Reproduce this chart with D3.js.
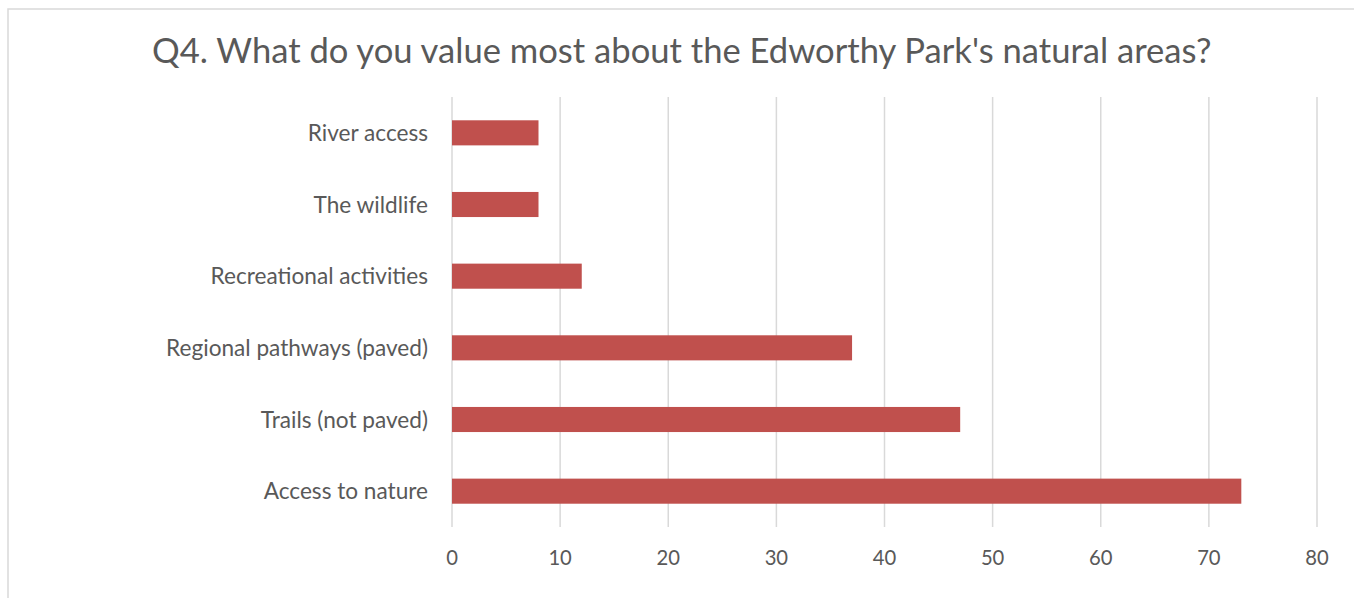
<!DOCTYPE html>
<html>
<head>
<meta charset="utf-8">
<script src="https://cdn.jsdelivr.net/npm/d3@7"></script>
<style>
  html, body { margin: 0; padding: 0; background: #fff; }
  svg { display: block; }
  text { font-family: Lato, "Open Sans", "Liberation Sans", sans-serif; fill: #595959; }
</style>
</head>
<body>
<svg id="chart" width="1354" height="598"></svg>
<script>
// Survey responses: what people value most about Edworthy Park's natural areas
const categories = [
  "River access",
  "The wildlife",
  "Recreational activities",
  "Regional pathways (paved)",
  "Trails (not paved)",
  "Access to nature"
];
const counts = [8, 8, 12, 37, 47, 73];
const tickValues = [0, 10, 20, 30, 40, 50, 60, 70, 80];
const title = "Q4. What do you value most about the Edworthy Park's natural areas?";

const W = 1354, H = 598;
const margin = { top: 97, right: 37, bottom: 71, left: 452 };

const svg = d3.select("#chart");

// chart frame
svg.append("rect")
  .attr("x", 8).attr("y", 9)
  .attr("width", W + 10).attr("height", H + 10)
  .attr("fill", "none")
  .attr("stroke", "#d9d9d9")
  .attr("stroke-width", 1.5);

const x = d3.scaleLinear().domain([0, 80]).range([margin.left, W - margin.right]);
const y = d3.scaleBand().domain(categories)
  .range([margin.top, H - margin.bottom])
  .paddingInner(0.65).paddingOuter(0.325);

// fit a text element's font size to a target width
function fitFont(sel, targetWidth, startSize) {
  sel.style("font-size", startSize + "px");
  const w = sel.node().getComputedTextLength();
  sel.style("font-size", (startSize * targetWidth / w) + "px");
}

// vertical gridlines
svg.append("g").selectAll("line").data(tickValues).join("line")
  .attr("x1", d => x(d)).attr("x2", d => x(d))
  .attr("y1", margin.top).attr("y2", H - margin.bottom)
  .attr("stroke", "#d9d9d9").attr("stroke-width", 1.5);

// bars
svg.append("g").selectAll("rect").data(categories).join("rect")
  .attr("x", x(0))
  .attr("y", d => y(d))
  .attr("width", (d, i) => x(counts[i]) - x(0))
  .attr("height", y.bandwidth())
  .attr("fill", "#c0504d");

// category labels
const catLabels = svg.append("g").selectAll("text").data(categories).join("text")
  .attr("x", margin.left - 24)
  .attr("y", d => y(d) + y.bandwidth() / 2)
  .attr("dy", "0.36em")
  .attr("text-anchor", "end")
  .text(d => d);
// size taken from the longest label
const refLabel = catLabels.filter(d => d === "Regional pathways (paved)");
fitFont(refLabel, 262, 18);
const catSize = refLabel.style("font-size");
catLabels.style("font-size", catSize);

// x axis tick labels
const tickLabels = svg.append("g").selectAll("text").data(tickValues).join("text")
  .attr("x", d => x(d))
  .attr("y", 565)
  .attr("text-anchor", "middle")
  .text(d => d);
const refTick = tickLabels.filter(d => d === 10);
fitFont(refTick, 23.5, 18);
tickLabels.style("font-size", refTick.style("font-size"));

// title
const t = svg.append("text")
  .attr("x", 152)
  .attr("y", 63)
  .attr("text-anchor", "start")
  .text(title);
fitFont(t, 1060, 28);
</script>
</body>
</html>
